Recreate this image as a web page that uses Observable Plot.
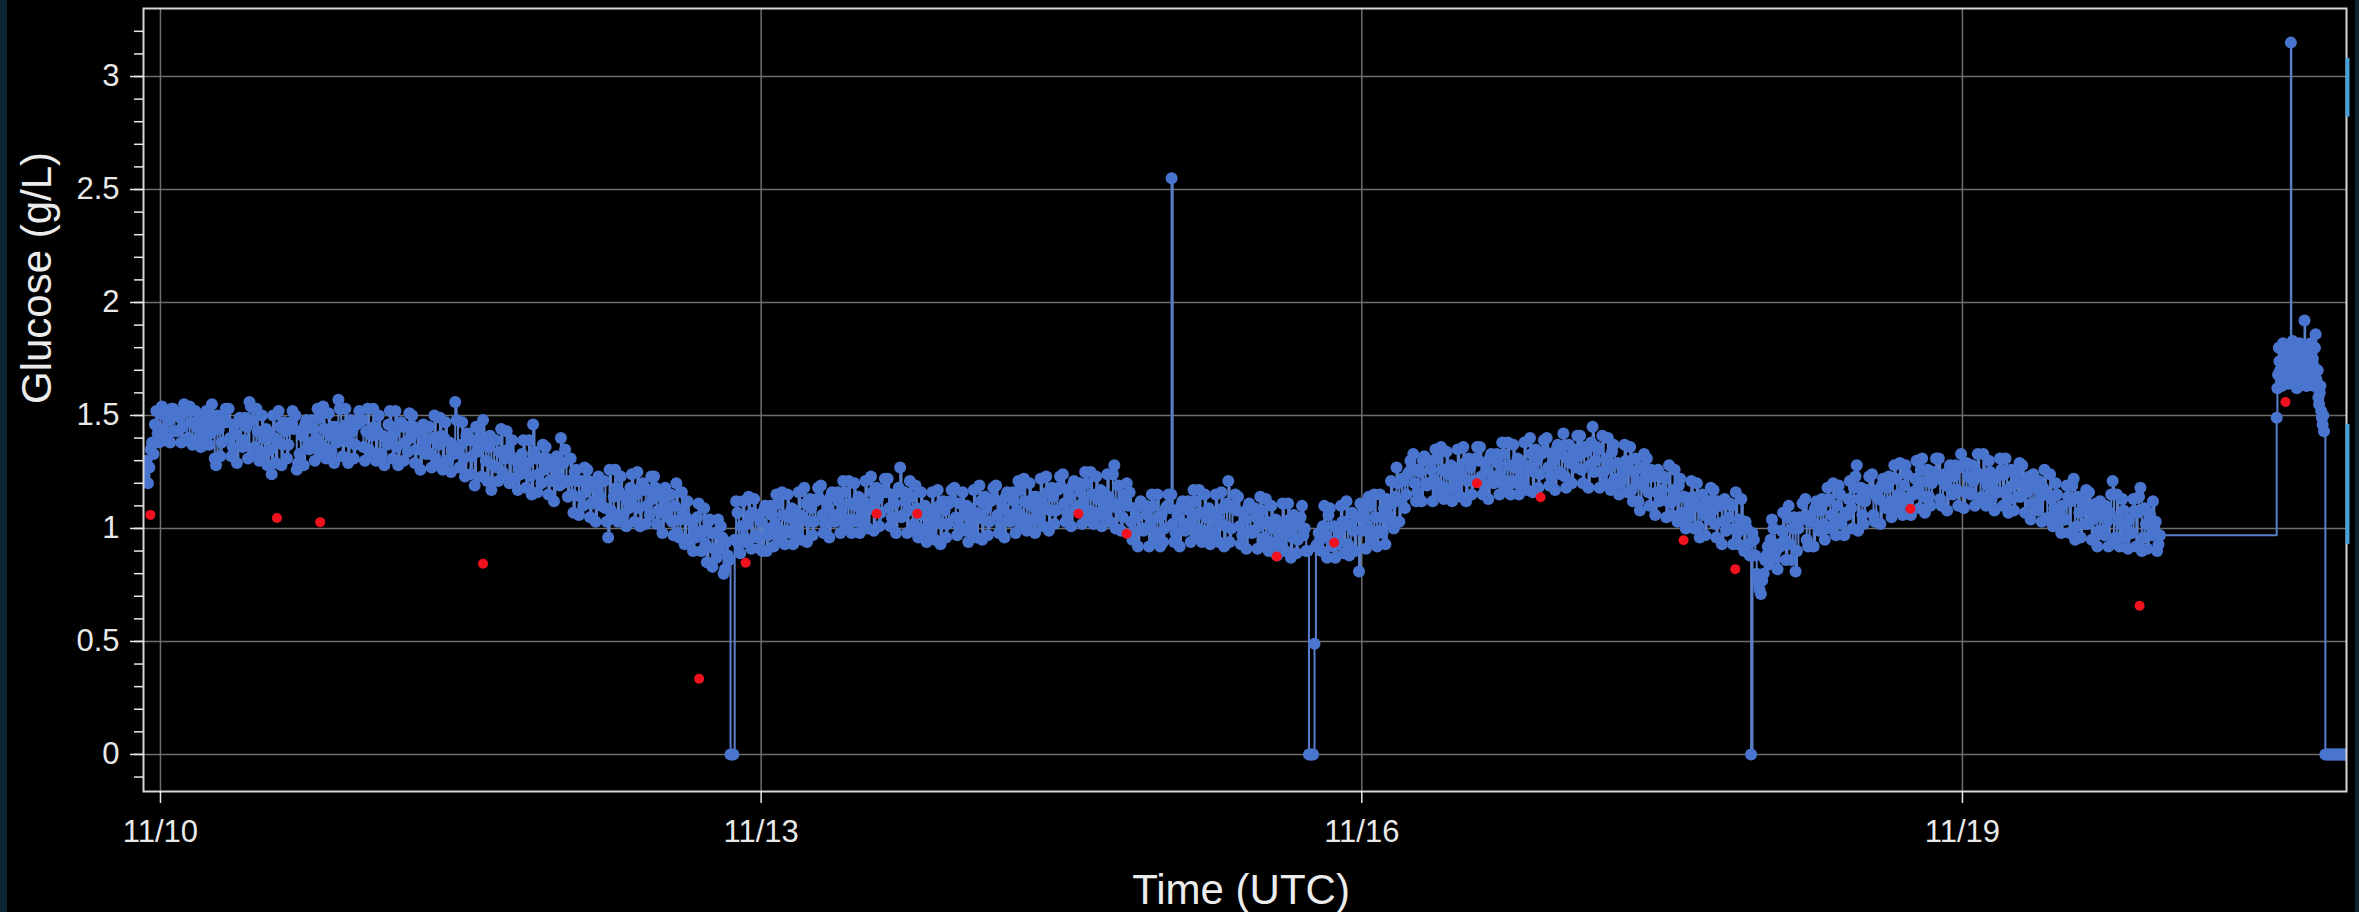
<!DOCTYPE html>
<html>
<head>
<meta charset="utf-8">
<script src="https://cdn.jsdelivr.net/npm/d3@7"></script>
<script src="https://cdn.jsdelivr.net/npm/@observablehq/plot@0.6"></script>
<style>
  html, body { margin: 0; padding: 0; background: #0e2634; width: 2359px; height: 912px; overflow: hidden; }
  #chart { position: absolute; left: 7px; top: 0; width: 2348px; height: 912px; background: #000; }
</style>
</head>
<body>
<div id="chart"></div>
<script>
// ---- CGM glucose readings (g/L) ----
// "a" arrays: on the hour, :20, :40 ; "b" arrays: :10, :30, :50
const day09a = [1.22, 1.30, 1.27, 1.38, 1.46, 1.42];           // from 11/09 22:00
const day09b = [1.26, 1.20, 1.35, 1.33, 1.52, 1.38];           // from 11/09 22:10
const day10a = [
  1.51,1.44,1.40, 1.48,1.53,1.43, 1.43,1.49,1.45, 1.52,1.40,1.47, 1.39,1.45,1.49, 1.47,1.37,1.45,
  1.42,1.48,1.28, 1.44,1.38,1.48, 1.47,1.40,1.36, 1.42,1.47,1.37, 1.39,1.45,1.56, 1.48,1.36,1.43,
  1.34,1.40,1.44, 1.42,1.24,1.40, 1.39,1.45,1.37, 1.43,1.37,1.47, 1.44,1.26,1.33, 1.41,1.46,1.36,
  1.38,1.44,1.40, 1.49,1.37,1.44, 1.35,1.41,1.45, 1.45,1.57,1.43, 1.40,1.46,1.38, 1.43,1.37,1.47];
const day10b = [
  1.54,1.39,1.49, 1.38,1.53,1.43, 1.51,1.38,1.55, 1.39,1.54,1.37, 1.52,1.40,1.36, 1.41,1.52,1.37,
  1.55,1.31,1.50, 1.32,1.47,1.53, 1.53,1.32,1.46, 1.29,1.49,1.36, 1.49,1.31,1.54, 1.33,1.53,1.30,
  1.50,1.33,1.28, 1.35,1.50,1.29, 1.52,1.28,1.47, 1.31,1.46,1.52, 1.50,1.29,1.43, 1.28,1.48,1.35,
  1.48,1.30,1.53, 1.34,1.54,1.31, 1.51,1.34,1.29, 1.38,1.53,1.32, 1.53,1.29,1.48, 1.31,1.46,1.52];
const day11a = [
  1.48,1.36,1.43, 1.35,1.41,1.45, 1.43,1.33,1.41, 1.40,1.46,1.38, 1.42,1.36,1.46, 1.45,1.38,1.34,
  1.40,1.45,1.35, 1.35,1.41,1.37, 1.45,1.33,1.40, 1.31,1.37,1.41, 1.40,1.30,1.38, 1.36,1.56,1.34,
  1.37,1.31,1.41, 1.39,1.32,1.19, 1.34,1.39,1.48, 1.30,1.36,1.17, 1.39,1.27,1.34, 1.25,1.31,1.35,
  1.32,1.22,1.30, 1.27,1.33,1.25, 1.29,1.23,1.46, 1.31,1.24,1.20, 1.26,1.31,1.21, 1.21,1.27,1.23];
const day11b = [
  1.48,1.30,1.53, 1.33,1.53,1.30, 1.50,1.33,1.28, 1.37,1.52,1.31, 1.52,1.28,1.47, 1.30,1.45,1.51,
  1.50,1.29,1.43, 1.26,1.46,1.33, 1.45,1.27,1.50, 1.29,1.49,1.26, 1.47,1.30,1.25, 1.33,1.48,1.27,
  1.47,1.23,1.42, 1.24,1.39,1.45, 1.44,1.23,1.37, 1.21,1.41,1.28, 1.39,1.21,1.44, 1.23,1.43,1.20,
  1.39,1.22,1.17, 1.24,1.39,1.18, 1.39,1.15,1.34, 1.16,1.31,1.37, 1.36,1.15,1.29, 1.12,1.32,1.19];
const day12a = [
  1.40,1.29,1.21, 1.21,1.15,1.25, 1.21,1.14,1.10, 1.16,1.21,1.11, 1.12,1.18,1.14, 1.21,1.09,0.96,
  1.08,1.14,1.18, 1.16,1.06,1.14, 1.12,1.18,1.10, 1.15,1.09,1.19, 1.17,1.10,1.06, 1.13,1.18,1.08,
  1.07,1.13,1.09, 1.15,1.03,1.10, 0.98,1.04,1.08, 1.05,0.95,1.03, 0.99,1.05,0.97, 0.99,0.93,1.03,
  0.98,0.91,0.87, 0.91,0.96,0.82, 0.88,0,0, 1.12,0.93,1.01, 0.96,1.02,1.06, 1.07,0.97,1.05];
const day12b = [
  1.20,1.35,1.14, 1.31,1.07,1.26, 1.06,1.21,1.27, 1.26,1.05,1.19, 1.03,1.23,1.10, 1.21,1.03,1.26,
  1.06,1.26,1.03, 1.23,1.06,1.01, 1.09,1.24,1.03, 1.25,1.01,1.20, 1.02,1.17,1.23, 1.23,1.02,1.16,
  0.98,1.18,1.05, 1.15,0.97,1.20, 0.96,1.16,0.93, 1.12,0.95,0.90, 0.96,1.11,0.90, 1.09,0.85,1.04,
  0.83,0.98,1.04, 1.01,0.80,0.94, 0.86,0,0.95, 1.07,0.89,1.12, 0.94,1.14,0.91, 1.13,0.96,0.91];
const day13a = [
  1.03,1.08,0.90, 1.00,1.06,1.02, 1.11,0.99,1.06, 0.99,1.05,1.09, 1.08,0.98,1.06, 1.05,1.11,1.03,
  1.09,1.03,1.13, 1.13,1.06,1.02, 1.09,1.14,1.04, 1.06,1.12,1.08, 1.16,1.04,1.11, 1.04,1.10,1.14,
  1.13,1.03,1.11, 1.10,1.16,1.08, 1.13,1.07,1.17, 1.16,1.09,1.05, 1.11,1.16,1.27, 1.06,1.12,1.08,
  1.14,1.02,1.09, 1.00,1.06,1.10, 1.08,0.98,1.06, 1.04,1.10,1.02, 1.08,1.02,1.12, 1.12,1.05,1.01];
const day13b = [
  0.90,1.10,0.97, 1.10,0.92,1.15, 0.96,1.16,0.93, 1.15,0.98,0.93, 1.01,1.16,0.95, 1.18,0.94,1.13,
  0.97,1.12,1.18, 1.19,0.98,1.12, 0.96,1.16,1.03, 1.16,0.98,1.21, 1.01,1.21,0.98, 1.20,1.03,0.98,
  1.06,1.21,1.00, 1.23,0.99,1.18, 1.01,1.16,1.22, 1.22,1.01,1.15, 0.98,1.18,1.05, 1.16,0.98,1.21,
  0.99,1.19,0.96, 1.16,0.99,0.94, 1.01,1.16,0.95, 1.17,0.93,1.12, 0.96,1.11,1.17, 1.18,0.97,1.11];
const day14a = [
  1.00,1.06,1.10, 1.09,0.99,1.07, 1.06,1.12,1.04, 1.09,1.03,1.13, 1.13,1.06,1.02, 1.09,1.14,1.04,
  1.06,1.12,1.08, 1.17,1.05,1.12, 1.04,1.10,1.14, 1.14,1.04,1.12, 1.10,1.16,1.08, 1.14,1.08,1.18,
  1.18,1.11,1.07, 1.14,1.19,1.09, 1.10,1.16,1.12, 1.20,1.08,1.15, 1.07,1.13,1.17, 1.16,1.06,1.14,
  1.11,1.28,1.09, 1.11,1.05,1.15, 1.10,1.03,0.99, 1.05,1.10,1.00, 1.00,1.06,1.02, 1.10,0.98,1.05];
const day14b = [
  1.16,0.99,0.94, 1.02,1.17,0.96, 1.19,0.95,1.14, 0.97,1.12,1.18, 1.19,0.98,1.12, 0.96,1.16,1.03,
  1.16,0.98,1.21, 1.02,1.22,0.99, 1.20,1.03,0.98, 1.07,1.22,1.01, 1.23,0.99,1.18, 1.02,1.17,1.23,
  1.24,1.03,1.17, 1.01,1.21,1.08, 1.20,1.02,1.25, 1.05,1.25,1.02, 1.23,1.06,1.01, 1.09,1.24,1.03,
  1.24,1.00,1.19, 0.99,1.14,1.20, 1.16,0.95,1.09, 0.92,1.12,0.99, 1.10,0.92,1.15, 0.95,1.15,0.92];
const day15a = [
  1.06,1.00,1.10, 1.09,1.02,0.98, 1.05,1.10,1.00, 1.02,1.08,1.04, 1.12,1.00,1.07, 0.99,1.05,1.09,
  1.07,0.97,1.05, 1.03,1.09,1.01, 1.21,1.00,1.10, 1.08,1.01,0.97, 1.04,1.09,0.99, 0.99,1.05,1.01,
  1.08,0.96,1.03, 0.94,1.00,1.04, 1.03,0.93,1.01, 0.98,1.04,0.96, 1.01,0.95,1.05, 0.97,0.90,0,
  0,0.49,0.93, 0.95,1.01,0.97, 1.06,0.94,1.01, 0.93,0.99,1.03, 1.03,0.93,1.01, 0.99,1.05,0.81];
const day15b = [
  0.94,1.09,1.15, 1.15,0.94,1.08, 0.92,1.12,0.99, 1.12,0.94,1.17, 0.97,1.17,0.94, 1.15,0.98,0.93,
  1.00,1.15,0.94, 1.16,0.92,1.11, 0.94,1.09,1.15, 1.14,0.93,1.07, 0.91,1.11,0.98, 1.09,0.91,1.14,
  0.93,1.13,0.90, 1.10,0.93,0.88, 0.96,1.11,0.90, 1.11,0.87,1.06, 0.89,1.04,1.10, 1.00,0.90,0,
  0,0.92,0.98, 0.90,1.10,0.87, 1.09,0.92,0.87, 0.95,1.10,0.89, 1.12,0.88,1.07, 0.90,1.05,1.11];
const day16a = [
  0.99,1.05,1.01, 1.10,0.98,1.05, 0.99,1.05,1.09, 1.13,1.03,1.11, 1.14,1.20,1.12, 1.21,1.15,1.25,
  1.27,1.20,1.16, 1.25,1.30,1.20, 1.20,1.26,1.22, 1.31,1.19,1.26, 1.18,1.24,1.28, 1.27,1.17,1.25,
  1.23,1.29,1.21, 1.27,1.21,1.31, 1.30,1.23,1.19, 1.26,1.31,1.21, 1.23,1.29,1.25, 1.33,1.21,1.28,
  1.21,1.27,1.31, 1.30,1.20,1.28, 1.27,1.33,1.25, 1.30,1.24,1.34, 1.34,1.27,1.23, 1.30,1.35,1.25];
const day16b = [
  1.09,0.91,1.14, 0.95,1.15,0.92, 1.15,0.98,0.93, 1.06,1.21,1.00, 1.27,1.03,1.22, 1.09,1.24,1.30,
  1.33,1.12,1.26, 1.12,1.32,1.19, 1.30,1.12,1.35, 1.16,1.36,1.13, 1.34,1.17,1.12, 1.20,1.35,1.14,
  1.36,1.12,1.31, 1.15,1.30,1.36, 1.36,1.15,1.29, 1.13,1.33,1.20, 1.33,1.15,1.38, 1.18,1.38,1.15,
  1.37,1.20,1.15, 1.23,1.38,1.17, 1.40,1.16,1.35, 1.18,1.33,1.39, 1.40,1.19,1.33, 1.17,1.37,1.24];
const day17a = [
  1.33,1.23,1.31, 1.29,1.35,1.27, 1.32,1.26,1.36, 1.35,1.28,1.45, 1.30,1.35,1.25, 1.25,1.31,1.27,
  1.34,1.22,1.29, 1.20,1.26,1.30, 1.27,1.17,1.25, 1.21,1.08,1.19, 1.22,1.16,1.26, 1.23,1.16,1.12,
  1.17,1.22,1.12, 1.11,1.17,1.13, 1.19,1.07,1.14, 1.04,1.10,1.14, 1.11,1.01,1.09, 1.06,1.12,1.04,
  1.08,1.02,1.12, 1.10,1.03,0.99, 1.05,1.10,1.00, 0.98,1.04,1.00, 1.03,0.93,0, 0.95,0.80,0.73];
const day17b = [
  1.42,1.18,1.37, 1.20,1.35,1.41, 1.41,1.20,1.34, 1.18,1.38,1.25, 1.36,1.18,1.41, 1.20,1.40,1.17,
  1.37,1.20,1.15, 1.22,1.37,1.16, 1.36,1.12,1.31, 1.12,1.27,1.33, 1.31,1.10,1.24, 1.06,1.26,1.13,
  1.23,1.05,1.28, 1.06,1.26,1.03, 1.22,1.05,1.00, 1.06,1.21,1.00, 1.20,0.96,1.15, 0.97,1.12,1.18,
  1.17,0.96,1.10, 0.93,1.13,1.00, 1.11,0.93,1.16, 0.93,1.13,0.90, 1.00,0.88,0.98, 0.88,0.76,0.71];
const day18a = [
  0.77,0.86,0.92, 0.95,1.00,0.90, 0.93,0.99,0.95, 1.05,0.93,1.00, 0.81,1.00,1.04, 1.05,0.95,1.03,
  1.03,1.09,1.01, 1.08,1.02,1.12, 1.13,1.06,1.02, 1.10,1.15,1.05, 1.07,1.13,1.09, 1.18,1.28,1.13,
  1.06,1.12,1.16, 1.16,1.06,1.14, 1.13,1.19,1.11, 1.18,1.12,1.22, 1.22,1.15,1.11, 1.19,1.24,1.14,
  1.16,1.22,1.18, 1.26,1.14,1.21, 1.14,1.20,1.24, 1.23,1.13,1.21, 1.19,1.25,1.17, 1.23,1.17,1.27];
const day18b = [
  0.80,0.88,0.84, 1.04,0.87,0.82, 0.92,1.07,0.86, 1.10,0.86,1.05, 0.90,1.05,1.11, 1.13,0.92,1.06,
  0.92,1.12,0.99, 1.13,0.95,1.18, 1.00,1.20,0.97, 1.19,1.02,0.97, 1.06,1.21,1.00, 1.23,0.99,1.18,
  1.02,1.17,1.23, 1.24,1.03,1.17, 1.02,1.22,1.09, 1.23,1.05,1.28, 1.09,1.29,1.06, 1.28,1.11,1.06,
  1.15,1.30,1.09, 1.31,1.07,1.26, 1.10,1.25,1.31, 1.31,1.10,1.24, 1.08,1.28,1.15, 1.28,1.10,1.33];
const day19a = [
  1.28,1.16,1.23, 1.15,1.21,1.25, 1.24,1.14,1.22, 1.19,1.25,1.17, 1.22,1.16,1.26, 1.24,1.17,1.13,
  1.19,1.24,1.14, 1.14,1.20,1.16, 1.23,1.11,1.18, 1.08,1.14,1.18, 1.15,1.05,1.13, 1.09,1.15,1.07,
  1.10,1.04,1.14, 1.12,1.22,1.01, 1.07,1.12,1.02, 1.02,1.08,1.04, 1.11,0.99,1.06, 0.97,1.03,1.07,
  1.21,0.96,1.04, 1.02,1.08,1.00, 1.04,0.98,1.08, 1.07,1.18,0.96, 1.02,1.07,0.97, 1.00,0.90,0.97];
const day19b = [
  1.09,1.29,1.16, 1.28,1.10,1.33, 1.13,1.33,1.10, 1.30,1.13,1.08, 1.16,1.31,1.10, 1.31,1.07,1.26,
  1.08,1.23,1.29, 1.28,1.07,1.21, 1.04,1.24,1.11, 1.21,1.03,1.26, 1.04,1.24,1.01, 1.20,1.03,0.98,
  1.04,1.19,0.98, 1.19,0.95,1.14, 0.96,1.11,1.17, 1.16,0.95,1.09, 0.92,1.12,0.99, 1.10,0.92,1.15,
  0.95,1.15,0.92, 1.13,0.96,0.91, 0.98,1.13,0.92, 1.14,0.90,1.09, 0.91,1.06,1.12, 1.03,0.93];
// 11/20, 10-minute spacing: "a" from 13:40, "b" from 13:45
const day20a = [
  1.49,1.68,1.74,1.65,1.79,1.70,1.81,1.67,1.76,1.72,1.80,1.69,1.78,1.64,1.75,1.80,1.68,1.77,
  1.71,1.79,1.92,1.74,1.66,1.79,1.72,1.68,1.75,1.63,1.86,1.64,1.58,1.60,1.52,1.46,1.43,
  0,0,0,0,0,0,0,0,0,0,0,0,0,0,0,0];
const day20b = [
  1.62,1.80,1.70,1.63,1.82,1.66,1.74,1.81,1.64,1.77,1.71,1.83,1.67,1.73,1.62,1.78,1.82,
  1.65,1.74,1.69,1.81,1.63,1.76,1.70,1.82,1.64,1.72,1.80,1.66,1.70,1.55,1.63,1.49,1.50];
// isolated spikes [time, g/L]
const spikes = [["2023-11-15T01:12Z", 2.55], ["2023-11-20T15:22Z", 3.15]];

// ---- finger-stick calibrations (red) ----
const calibTimes = [
  "2023-11-09T22:48Z", "2023-11-10T13:58Z", "2023-11-10T19:09Z", "2023-11-11T14:40Z",
  "2023-11-12T16:34Z", "2023-11-12T22:09Z", "2023-11-13T13:51Z", "2023-11-13T18:43Z",
  "2023-11-14T14:02Z", "2023-11-14T19:49Z", "2023-11-15T13:48Z", "2023-11-15T20:41Z",
  "2023-11-16T13:48Z", "2023-11-16T21:26Z", "2023-11-17T14:34Z", "2023-11-17T20:46Z",
  "2023-11-18T17:46Z", "2023-11-19T21:14Z", "2023-11-20T14:43Z"];
const calibValues = [1.06, 1.046, 1.028, 0.844, 0.335, 0.848, 1.065, 1.065, 1.065, 0.977,
  0.876, 0.937, 1.20, 1.138, 0.948, 0.82, 1.087, 0.658, 1.56];

// ---- axes ----
const xTicks = ["2023-11-10", "2023-11-13", "2023-11-16", "2023-11-19"];
const yMajor = [0, 0.5, 1, 1.5, 2, 2.5, 3];
const yMinor = [-0.1,0,0.1,0.2,0.3,0.4,0.5,0.6,0.7,0.8,0.9,1,1.1,1.2,1.3,1.4,1.5,1.6,1.7,1.8,1.9,2,
  2.1,2.2,2.3,2.4,2.5,2.6,2.7,2.8,2.9,3,3.1,3.2];
const xDomain = ["2023-11-09T21:58Z", "2023-11-20T22:02Z"];
const yDomain = [-0.164, 3.301];
const edgeBars = [{from: 2.82, to: 3.08}, {from: 0.93, to: 1.46}];

// ---- build tables ----
const segments = [
  ["2023-11-09T22:00Z", 20, day09a], ["2023-11-09T22:10Z", 20, day09b],
  ["2023-11-10T00:00Z", 20, day10a], ["2023-11-10T00:10Z", 20, day10b],
  ["2023-11-11T00:00Z", 20, day11a], ["2023-11-11T00:10Z", 20, day11b],
  ["2023-11-12T00:00Z", 20, day12a], ["2023-11-12T00:10Z", 20, day12b],
  ["2023-11-13T00:00Z", 20, day13a], ["2023-11-13T00:10Z", 20, day13b],
  ["2023-11-14T00:00Z", 20, day14a], ["2023-11-14T00:10Z", 20, day14b],
  ["2023-11-15T00:00Z", 20, day15a], ["2023-11-15T00:10Z", 20, day15b],
  ["2023-11-16T00:00Z", 20, day16a], ["2023-11-16T00:10Z", 20, day16b],
  ["2023-11-17T00:00Z", 20, day17a], ["2023-11-17T00:10Z", 20, day17b],
  ["2023-11-18T00:00Z", 20, day18a], ["2023-11-18T00:10Z", 20, day18b],
  ["2023-11-19T00:00Z", 20, day19a], ["2023-11-19T00:10Z", 20, day19b],
  ["2023-11-20T13:40Z", 10, day20a], ["2023-11-20T13:45Z", 10, day20b]];
const readings = [];
for (const [start, step, values] of segments) {
  const t0 = Date.parse(start);
  values.forEach((v, i) => readings.push({time: new Date(t0 + i * step * 60000), glucose: v}));
}
for (const [t, v] of spikes) readings.push({time: new Date(t), glucose: v});
readings.sort((a, b) => a.time - b.time);
const calib = calibTimes.map((t, i) => ({time: new Date(t), glucose: calibValues[i]}));
const xTickDates = xTicks.map(d => new Date(d + "T00:00Z"));
const xEnd = new Date(xDomain[1]);

const chart = Plot.plot({
  width: 2348,
  height: 912,
  marginLeft: 136,
  marginRight: 9,
  marginTop: 8,
  marginBottom: 121,
  style: {background: "#000", color: "#e9e9e9", fontFamily: "'Liberation Sans', Arial, Helvetica, sans-serif", fontSize: "31px"},
  x: {type: "utc", domain: xDomain.map(d => new Date(d)), label: null},
  y: {domain: yDomain, label: null},
  marks: [
    Plot.gridY(yMajor, {stroke: "#6e6e6e", strokeOpacity: 1, strokeWidth: 1.5}),
    Plot.gridX(xTickDates, {stroke: "#6e6e6e", strokeOpacity: 1, strokeWidth: 1.5}),
    Plot.line(readings, {x: "time", y: "glucose", curve: "step-after", stroke: "#5a7ec8", strokeWidth: 2, clip: true}),
    Plot.dot(readings, {x: "time", y: "glucose", r: 6, fill: "#4a75cf", clip: true}),
    Plot.dot(calib, {x: "time", y: "glucose", r: 5, fill: "#f0121e", clip: true}),
    Plot.frame({stroke: "#d6d6d6", strokeWidth: 2}),
    Plot.ruleX(edgeBars, {x: xEnd, y1: "from", y2: "to", stroke: "#45a0d6", strokeWidth: 4, dx: 1}),
    Plot.axisY(yMinor, {tickSize: 9, tickFormat: () => "", label: null, strokeWidth: 1.5}),
    Plot.axisY(yMajor, {tickSize: 13, tickPadding: 11, tickFormat: d => String(d), label: null, strokeWidth: 1.5}),
    Plot.axisX(xTickDates, {tickSize: 12, tickPadding: 16, tickFormat: d3.utcFormat("%m/%d"), label: null, strokeWidth: 1.5}),
    Plot.text(["Glucose (g/L)"], {frameAnchor: "left", rotate: -90, dx: -106, dy: 4, fontSize: 42, lineAnchor: "middle", fill: "#ececec"}),
    Plot.text(["Time (UTC)"], {frameAnchor: "bottom", dx: -4, dy: 99, fontSize: 42, lineAnchor: "middle", fill: "#ececec"})
  ]
});
document.getElementById("chart").appendChild(chart);
</script>
</body>
</html>
